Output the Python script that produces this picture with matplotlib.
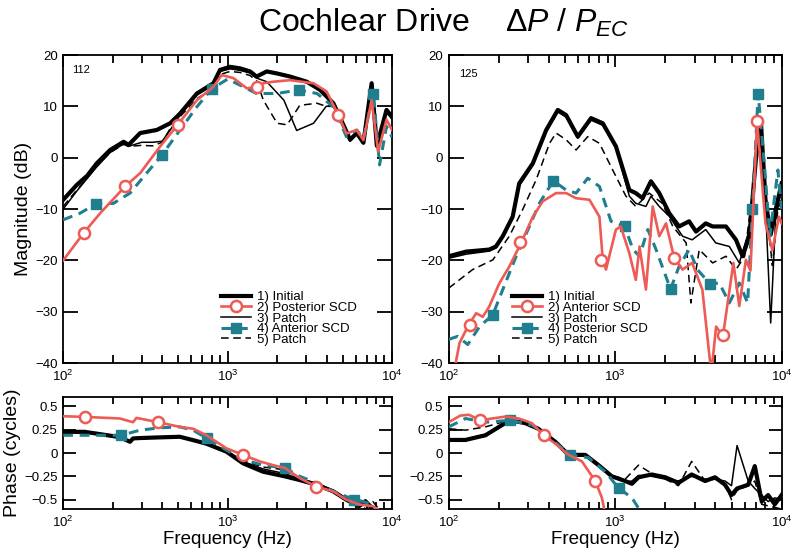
import matplotlib
matplotlib.use("Agg")
import matplotlib.pyplot as plt
import matplotlib.ticker as ticker
from matplotlib.lines import Line2D

plt.rcParams['font.family'] = ['Liberation Sans', 'DejaVu Sans']
plt.rcParams['mathtext.fontset'] = 'custom'
plt.rcParams['mathtext.rm'] = 'Liberation Sans'
plt.rcParams['mathtext.it'] = 'Liberation Sans:italic'

RED = "#ee5a55"
TEAL = "#1f7f8f"

# ---------------- magnitude, ear 112 ----------------
m112_init_f = [100, 121, 140, 160, 193, 233, 250, 294, 371, 447, 514, 650, 820, 900, 1035, 1190, 1370, 1500,
               1730, 2000, 2400, 3030, 3650, 4400, 5060, 5560, 6100, 6700, 7520, 8090, 9260, 10000]
m112_init = [-8.2, -5.3, -3.5, -1.1, 1.5, 3.1, 2.5, 4.8, 5.4, 6.7, 8.6, 12.5, 14.5, 17.1, 17.7, 17.4, 16.8, 15.8,
             16.8, 16.4, 15.8, 14.8, 13.2, 10.6, 6.4, 3.5, 4.8, 2.9, 14.5, 2.3, 9.3, 8.0]
m112_p1_f = [100, 121, 160, 193, 233, 250, 300, 350, 400, 450, 514, 650, 820, 900, 1035, 1190, 1370, 1500,
             1730, 2200, 2630, 3330, 3980, 4400, 5060, 5560, 6100, 6700, 7520, 8090, 9260, 10000]
m112_p1 = [-10.0, -6.5, -1.8, 1.0, 2.7, 2.2, 3.0, 3.0, 3.2, 5.5, 8.3, 12.2, 14.2, 16.8, 17.3, 17.0, 16.5, 15.5,
           14.8, 11.2, 5.3, 6.7, 10.0, 10.2, 6.0, 3.2, 4.6, 2.8, 14.0, 2.0, 8.8, 7.5]
m112_p2_f = [100, 121, 160, 193, 233, 250, 300, 350, 400, 450, 514, 650, 820, 900, 1035, 1190, 1370, 1500,
             1650, 2000, 2300, 2750, 3500, 3980, 4400, 5060, 5560, 6100, 6700, 7520, 8090, 9260, 10000]
m112_p2 = [-9.5, -6.3, -1.6, 1.0, 2.6, 2.2, 2.4, 2.3, 3.0, 5.8, 8.0, 11.5, 13.5, 16.2, 16.8, 16.6, 16.0, 15.0,
           11.2, 6.7, 6.4, 10.2, 10.6, 10.0, 10.0, 6.1, 3.3, 4.8, 2.8, 14.2, 2.1, 9.0, 7.7]
m112_red_f = [100, 133, 168, 238, 294, 389, 497, 650, 820, 920, 1085, 1310, 1500, 1650, 1900, 2400, 3330, 4000,
              4720, 5280, 6100, 6700, 7520, 8240, 9260, 10000]
m112_red = [-20.0, -14.7, -10.8, -5.6, -3.0, 2.2, 6.4, 11.2, 13.8, 16.1, 15.5, 13.5, 13.8, 14.5, 14.8, 15.1, 14.5,
            12.9, 8.3, 4.7, 5.4, 3.4, 11.2, 1.2, 7.4, 5.4]
m112_red_mk_f = [133, 238, 497, 1500, 4720]
m112_red_mk = [-14.7, -5.6, 6.4, 13.8, 8.3]
m112_teal_f = [100, 127, 158, 202, 255, 322, 398, 514, 650, 800, 1000, 1250, 1500, 2000, 2700, 3500, 4400, 5280,
               6100, 6700, 7700, 8400, 9260, 10000]
m112_teal = [-12.1, -10.8, -9.0, -8.9, -6.9, -3.0, 0.5, 5.4, 9.9, 13.4, 15.3, 13.8, 12.5, 12.5, 13.2, 12.5, 9.9, 4.1,
             5.4, 3.7, 12.5, -1.4, 6.1, 4.0]
m112_teal_mk_f = [158, 398, 800, 2700, 7700]
m112_teal_mk = [-9.0, 0.5, 13.4, 13.2, 12.5]

# ---------------- magnitude, ear 125 ----------------
m125_init_f = [100, 127, 175, 192, 211, 242, 265, 320, 385, 452, 507, 596, 716, 842, 1010, 1216, 1330, 1460, 1640,
               1840, 2110, 2420, 2780, 3060, 3500, 3850, 4630, 5320, 5830, 6400, 7000, 7500, 8000, 8600, 9200, 10000]
m125_init = [-19.2, -18.3, -17.9, -17.3, -15.3, -11.5, -5.0, -1.1, 5.4, 9.3, 8.3, 4.1, 7.7, 6.7, 2.2, -6.3, -6.9,
             -7.9, -4.6, -6.9, -10.8, -13.4, -12.4, -14.4, -12.8, -13.4, -13.4, -16.0, -19.2, -15.3, -0.4, 7.4,
             -8.2, -15.0, -10.2, -5.0]
m125_p1_f = [100, 127, 175, 192, 211, 242, 265, 320, 385, 452, 507, 596, 716, 842, 1010, 1216, 1330, 1530, 1640,
             1840, 2110, 2540, 2900, 3500, 4020, 4850, 5570, 6400, 7350, 8000, 8600, 9200, 10000]
m125_p1 = [-19.6, -18.8, -18.2, -17.6, -15.6, -11.8, -5.5, -1.5, 5.0, 8.9, 7.9, 3.8, 7.3, 6.3, 2.0, -7.5, -8.9,
           -9.5, -7.5, -9.5, -11.4, -15.3, -16.0, -14.0, -16.6, -17.3, -20.5, -14.0, 8.0, -9.5, -32.2, -12.0, -6.0]
m125_p2_f = [100, 139, 184, 231, 278, 335, 403, 441, 507, 582, 684, 804, 966, 1160, 1330, 1600, 1920, 2220, 2670,
             2850, 3200, 3850, 4630, 5320, 6000, 7350, 8000, 8800, 9500, 10000]
m125_p2 = [-25.4, -21.8, -19.9, -15.3, -10.1, -4.3, 2.8, 4.8, 3.5, 1.5, 4.1, 2.8, -2.4, -7.5, -9.5, -6.9, -8.9,
           -13.4, -16.6, -28.3, -17.9, -20.5, -19.2, -21.8, -19.2, 4.8, -8.2, -21.0, -10.0, -8.0]
m125_red_f = [100, 116, 130, 146, 160, 175, 201, 231, 272, 320, 367, 441, 507, 582, 700, 804, 842, 880, 1010, 1080,
              1216, 1330, 1400, 1530, 1680, 1840, 2020, 2265, 2540, 2900, 3340, 3780, 4040, 4440, 5130, 5570,
              6100, 6500, 7120, 8000, 8800, 9640, 10000]
m125_red = [-47.0, -36.1, -32.9, -30.3, -31.0, -29.0, -24.5, -21.2, -16.6, -11.5, -8.5, -6.9, -6.9, -7.9, -8.2,
            -11.5, -19.9, -21.8, -14.0, -13.4, -18.6, -23.8, -17.3, -25.7, -9.5, -15.3, -12.8, -19.6, -21.8,
            -20.5, -25.7, -42.0, -32.9, -34.8, -20.5, -28.9, -19.9, -22.0, 7.2, -12.8, -18.0, -11.5, -12.8]
m125_red_mk_f = [135, 269, 822, 2265, 4440, 7120]
m125_red_mk = [-32.5, -16.5, -19.9, -19.6, -34.5, 7.2]
m125_teal_f = [100, 113, 130, 153, 184, 211, 254, 305, 350, 425, 507, 582, 684, 804, 944, 1140, 1280, 1400, 1570,
               1760, 2150, 2420, 2780, 3120, 3720, 4220, 4850, 5570, 6250, 6680, 7230, 7900, 8500, 9500, 10000]
m125_teal = [-35.4, -34.8, -36.4, -32.9, -30.6, -25.7, -19.2, -13.4, -8.9, -4.5, -6.3, -6.9, -4.0, -5.6, -12.4,
             -13.4, -17.9, -19.2, -14.0, -17.9, -25.6, -21.2, -17.9, -21.8, -24.6, -24.4, -28.3, -24.4, -28.3,
             -10.0, 12.5, -1.8, -15.3, -2.4, -10.0]
m125_teal_mk_f = [184, 425, 1140, 2150, 3720, 6680, 7230]
m125_teal_mk = [-30.6, -4.5, -13.4, -25.6, -24.6, -10.0, 12.5]

# ---------------- phase, ear 112 ----------------
p112_blk_f = [100, 135, 221, 255, 266, 290, 378, 512, 617, 743, 985, 1240, 1640, 2230, 2750, 3470, 4380, 5270,
              6300, 6900, 7650, 8500]
p112_init = [0.227, 0.227, 0.17, 0.12, 0.156, 0.16, 0.167, 0.174, 0.138, 0.1, 0.014, -0.11, -0.2, -0.25, -0.29,
             -0.34, -0.41, -0.5, -0.57, -0.52, -0.6, -0.62]
p112_p1 = [0.22, 0.22, 0.165, 0.125, 0.15, 0.155, 0.16, 0.17, 0.135, 0.1, 0.01, -0.09, -0.17, -0.22, -0.28,
           -0.32, -0.4, -0.49, -0.55, -0.5, -0.58, -0.62]
p112_p2 = [0.21, 0.22, 0.17, 0.13, 0.155, 0.16, 0.165, 0.17, 0.14, 0.105, 0.02, -0.08, -0.15, -0.18, -0.27,
           -0.33, -0.41, -0.5, -0.54, -0.6, -0.52, -0.62]
p112_red_f = [100, 135, 221, 266, 279, 378, 512, 617, 743, 985, 1240, 1570, 1890, 2230, 2750, 3470, 4380, 5270,
              6300, 7650, 8500]
p112_red = [0.394, 0.387, 0.37, 0.33, 0.376, 0.33, 0.28, 0.26, 0.19, 0.05, -0.02, -0.09, -0.13, -0.16, -0.27,
            -0.36, -0.41, -0.5, -0.55, -0.57, -0.62]
p112_red_mk_f = [135, 378, 1240, 3470]
p112_red_mk = [0.387, 0.33, -0.02, -0.36]
p112_teal_f = [100, 135, 226, 293, 387, 512, 617, 750, 985, 1240, 1640, 2230, 2750, 3470, 4380, 5900, 6700,
               7500, 8200]
p112_teal = [0.19, 0.19, 0.19, 0.245, 0.27, 0.28, 0.245, 0.156, 0.03, -0.07, -0.13, -0.16, -0.25, -0.32, -0.41,
             -0.5, -0.52, -0.55, -0.62]
p112_teal_mk_f = [226, 750, 2230, 5900]
p112_teal_mk = [0.19, 0.156, -0.16, -0.5]

# ---------------- phase, ear 125 ----------------
p125_blk_f = [100, 126, 166, 209, 234, 288, 345, 437, 525, 661, 794, 955, 1148, 1260, 1380, 1660, 2000, 2400,
              2880, 3470, 3980, 4570, 5000, 5400, 6300, 6900, 7600, 8300, 9100, 10000]
p125_init = [0.14, 0.14, 0.19, 0.30, 0.35, 0.32, 0.26, 0.12, -0.02, -0.02, -0.13, -0.25, -0.30, -0.33, -0.26,
             -0.23, -0.26, -0.32, -0.23, -0.30, -0.26, -0.34, -0.45, -0.38, -0.34, -0.14, -0.52, -0.45, -0.55,
             -0.45]
p125_p1 = [0.15, 0.15, 0.2, 0.30, 0.34, 0.32, 0.26, 0.12, -0.02, -0.03, -0.14, -0.25, -0.31, -0.30, -0.24,
           -0.25, -0.28, -0.30, -0.25, -0.28, -0.28, -0.30, -0.35, 0.08, -0.30, -0.38, -0.45, -0.52, -0.48, -0.5]
p125_p2_f = [100, 126, 166, 209, 234, 288, 345, 437, 525, 661, 794, 955, 1148, 1380, 1660, 2000, 2400, 2880,
             3470, 3980, 4570, 5000, 5400, 6300, 6900, 7600, 10000]
p125_p2 = [0.26, 0.245, 0.28, 0.33, 0.34, 0.32, 0.26, 0.12, -0.02, -0.03, -0.13, -0.24, -0.28, -0.13, -0.22,
           -0.28, -0.35, -0.09, -0.3, -0.28, -0.33, -0.5, -0.4, -0.35, -0.3, -0.55, -0.6]
p125_red_f = [100, 117, 132, 155, 182, 219, 263, 316, 372, 437, 525, 631, 759, 832, 870]
p125_red = [0.33, 0.40, 0.41, 0.35, 0.37, 0.39, 0.37, 0.32, 0.19, 0.10, -0.02, -0.09, -0.30, -0.48, -0.65]
p125_red_mk_f = [155, 372, 759]
p125_red_mk = [0.35, 0.19, -0.30]
p125_teal_f = [100, 126, 166, 234, 316, 398, 537, 692, 871, 1047, 1260, 1450]
p125_teal = [0.28, 0.37, 0.33, 0.35, 0.30, 0.17, -0.02, -0.05, -0.2, -0.375, -0.48, -0.65]
p125_teal_mk_f = [234, 537, 1047]
p125_teal_mk = [0.35, -0.02, -0.375]

legend_112 = ["1) Initial", "2) Posterior SCD", "3) Patch", "4) Anterior SCD", "5) Patch"]
legend_125 = ["1) Initial", "2) Anterior SCD", "3) Patch", "4) Posterior SCD", "5) Patch"]

INIT = dict(color="black", lw=3.0, solid_joinstyle="round")
THIN = dict(color="black", lw=1.1)
DASH = dict(color="black", lw=1.1, ls=(0, (5, 3)))
REDL = dict(color=RED, lw=1.9)
TEALL = dict(color=TEAL, lw=2.2, ls=(0, (3.2, 2.2)))
REDM = dict(ls="none", marker="o", ms=8, mfc="white", mec=RED, mew=1.8)
TEALM = dict(ls="none", marker="s", ms=6.5, mfc=TEAL, mec=TEAL)


def style_axes(ax, ylen, xlen):
    ax.set_xscale("log")
    ax.set_xlim(100, 10000)
    ax.xaxis.set_major_locator(ticker.LogLocator(base=10, numticks=8))
    ax.xaxis.set_minor_locator(ticker.LogLocator(base=10, subs=range(2, 10), numticks=20))
    ax.xaxis.set_minor_formatter(ticker.NullFormatter())
    ax.tick_params(direction="in", which="both", top=True, right=True, width=1.3, labelsize=9.5, pad=4)
    ax.tick_params(axis="y", which="major", length=ylen)
    ax.tick_params(axis="x", which="major", length=xlen)
    ax.tick_params(axis="x", which="minor", length=xlen * 0.65)
    for s in ax.spines.values():
        s.set_linewidth(1.3)


def draw(ax, init_f, init, p1_f, p1, p2_f, p2, rf, r, rmf, rm, tf, t, tmf, tm):
    ax.plot(p2_f, p2, **DASH, zorder=2)
    ax.plot(p1_f, p1, **THIN, zorder=2)
    ax.plot(init_f, init, **INIT, zorder=3)
    ax.plot(tf, t, **TEALL, zorder=4)
    ax.plot(tmf, tm, **TEALM, zorder=5)
    ax.plot(rf, r, **REDL, zorder=6)
    ax.plot(rmf, rm, **REDM, zorder=7)


def add_legend(ax, labels, x):
    handles = [Line2D([], [], **INIT),
               Line2D([], [], marker="o", ms=8, mfc="white", mec=RED, mew=1.8, **REDL),
               Line2D([], [], **THIN),
               Line2D([], [], marker="s", ms=6.5, mfc=TEAL, mec=TEAL, **TEALL),
               Line2D([], [], **DASH)]
    ax.legend(handles, labels, loc="lower left", bbox_to_anchor=(x, 0.055), frameon=False, fontsize=9.5,
              handlelength=2.3, handletextpad=0.4, labelspacing=-0.12, borderpad=0, borderaxespad=0)


fig = plt.figure(figsize=(8, 5.59), dpi=100)
ax1 = fig.add_axes([0.079, 0.3506, 0.411, 0.551])
ax2 = fig.add_axes([0.561, 0.3506, 0.416, 0.551])
ax3 = fig.add_axes([0.079, 0.0894, 0.411, 0.2004])
ax4 = fig.add_axes([0.561, 0.0894, 0.416, 0.2004])

draw(ax1, m112_init_f, m112_init, m112_p1_f, m112_p1, m112_p2_f, m112_p2, m112_red_f, m112_red,
     m112_red_mk_f, m112_red_mk, m112_teal_f, m112_teal, m112_teal_mk_f, m112_teal_mk)
draw(ax2, m125_init_f, m125_init, m125_p1_f, m125_p1, m125_p2_f, m125_p2, m125_red_f, m125_red,
     m125_red_mk_f, m125_red_mk, m125_teal_f, m125_teal, m125_teal_mk_f, m125_teal_mk)
draw(ax3, p112_blk_f, p112_init, p112_blk_f, p112_p1, p112_blk_f, p112_p2, p112_red_f, p112_red,
     p112_red_mk_f, p112_red_mk, p112_teal_f, p112_teal, p112_teal_mk_f, p112_teal_mk)
draw(ax4, p125_blk_f, p125_init, p125_blk_f, p125_p1, p125_p2_f, p125_p2, p125_red_f, p125_red,
     p125_red_mk_f, p125_red_mk, p125_teal_f, p125_teal, p125_teal_mk_f, p125_teal_mk)

for ax in (ax1, ax2):
    style_axes(ax, 11, 8.5)
    ax.set_ylim(-40, 20)
    ax.set_yticks([-40, -30, -20, -10, 0, 10, 20])
for ax in (ax3, ax4):
    style_axes(ax, 9.5, 8)
    ax.set_ylim(-0.6, 0.6)
    ax.set_yticks([-0.5, -0.25, 0, 0.25, 0.5])
    ax.yaxis.set_major_formatter(ticker.FuncFormatter(lambda v, p: f"{v:g}".replace("-", "\u2212")))
    ax.set_xlabel("Frequency (Hz)", fontsize=13.5, labelpad=1)

ax1.set_ylabel("Magnitude (dB)", fontsize=14, labelpad=2)
ax3.set_ylabel("Phase (cycles)", fontsize=14, labelpad=2)

ax1.text(0.027, 0.94, "112", transform=ax1.transAxes, fontsize=8)
ax2.text(0.03, 0.93, "125", transform=ax2.transAxes, fontsize=8)

add_legend(ax1, legend_112, 0.48)
add_legend(ax2, legend_125, 0.19)

fig.text(0.555, 0.943, r"Cochlear Drive    $\Delta P\ /\ P_{EC}$", ha="center", va="baseline", fontsize=23)

plt.savefig("out.png", dpi=100)
plt.close()
